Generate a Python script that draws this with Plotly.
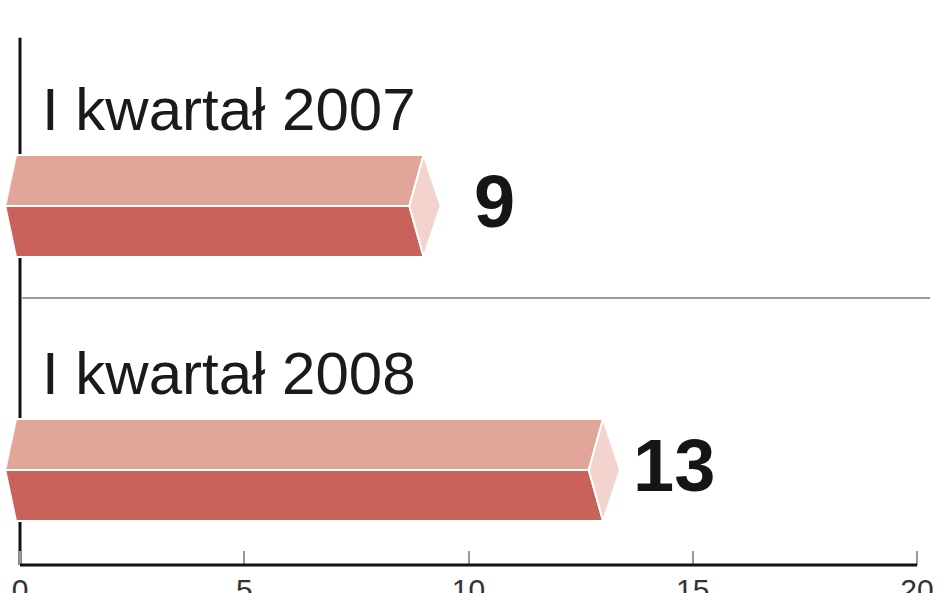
import plotly.graph_objects as go

# ---- data ----
categories = ["I kwartał 2007", "I kwartał 2008"]
values = [9, 13]
tick_vals = [0, 5, 10, 15, 20]
tick_text = ["0", "5", "10", "15", "20"]

# ---- style constants ----
TOP_COLOR = "#E2A59A"
BOTTOM_COLOR = "#C8625B"
CAP_COLOR = "#F2D4CC"
HALF_H = 0.193      # half bar thickness (y units)
INDENT = 0.32       # how far the middle edge is pulled in (x units)
LEFT_TIP = 0.33     # left point beyond zero
LEFT_CORNER = 0.09
CAP_OUT = 0.38

n = len(categories)
positions = [n - 1 - i for i in range(n)]

fig = go.Figure()

for cat, v, c in zip(categories, values, positions):
    # top face
    fig.add_trace(go.Scatter(
        x=[-LEFT_CORNER, v, v - INDENT, -LEFT_TIP, -LEFT_CORNER],
        y=[c + HALF_H, c + HALF_H, c, c, c + HALF_H],
        fill="toself", fillcolor=TOP_COLOR, mode="lines",
        line=dict(color="white", width=2), hoverinfo="skip", showlegend=False))
    # bottom face
    fig.add_trace(go.Scatter(
        x=[-LEFT_TIP, v - INDENT, v, -LEFT_CORNER, -LEFT_TIP],
        y=[c, c, c - HALF_H, c - HALF_H, c],
        fill="toself", fillcolor=BOTTOM_COLOR, mode="lines",
        line=dict(color="white", width=2), hoverinfo="skip", showlegend=False))
    # end cap
    fig.add_trace(go.Scatter(
        x=[v, v + CAP_OUT, v, v - INDENT, v],
        y=[c + HALF_H, c, c - HALF_H, c, c + HALF_H],
        fill="toself", fillcolor=CAP_COLOR, mode="lines",
        line=dict(color="white", width=2), hoverinfo="skip", showlegend=False))
    # category label
    fig.add_annotation(x=0.45, y=c + 0.367, xref="x", yref="y", text=cat,
                       showarrow=False, xanchor="left", yanchor="middle",
                       font=dict(family="Liberation Sans", size=60, color="#1a1a1a"))
    # value label
    fig.add_annotation(x=v + 1.57, y=c + 0.015, xref="x", yref="y", text=f"<b>{v}</b>",
                       showarrow=False, xanchor="center", yanchor="middle",
                       font=dict(family="Liberation Sans", size=74, color="#151515"))

# separator line
fig.add_shape(type="line", xref="x", yref="y", x0=0.05, x1=20.29, y0=0.651, y1=0.651,
              line=dict(color="#9a9a9a", width=2), layer="below")
# vertical axis line
fig.add_shape(type="line", xref="x", yref="paper", x0=0, x1=0, y0=0, y1=0.933,
              line=dict(color="#111111", width=3), layer="below")
# bottom axis line
fig.add_shape(type="line", xref="x", yref="paper", x0=0, x1=20, y0=0, y1=0,
              line=dict(color="#111111", width=3), layer="above")

fig.update_xaxes(range=[-0.446, 20.69], showgrid=False, zeroline=False, showline=False,
                 tickmode="array", tickvals=tick_vals, ticktext=tick_text,
                 ticks="inside", ticklen=14, tickwidth=1.5, tickcolor="#999999",
                 tickfont=dict(family="Liberation Sans", size=30, color="#333333"),
                 ticklabelstandoff=4, automargin=False, fixedrange=True)
fig.update_yaxes(range=[-0.36, 1.78], visible=False, showgrid=False, zeroline=False,
                 automargin=False, fixedrange=True)

fig.update_layout(width=948, height=593, margin=dict(l=0, r=0, t=0, b=28, autoexpand=False),
                  plot_bgcolor="white", paper_bgcolor="white", showlegend=False)

fig.write_html("out.html", config={"displayModeBar": False},
               post_script="document.body.style.margin='0px';document.body.style.overflow='hidden';")
